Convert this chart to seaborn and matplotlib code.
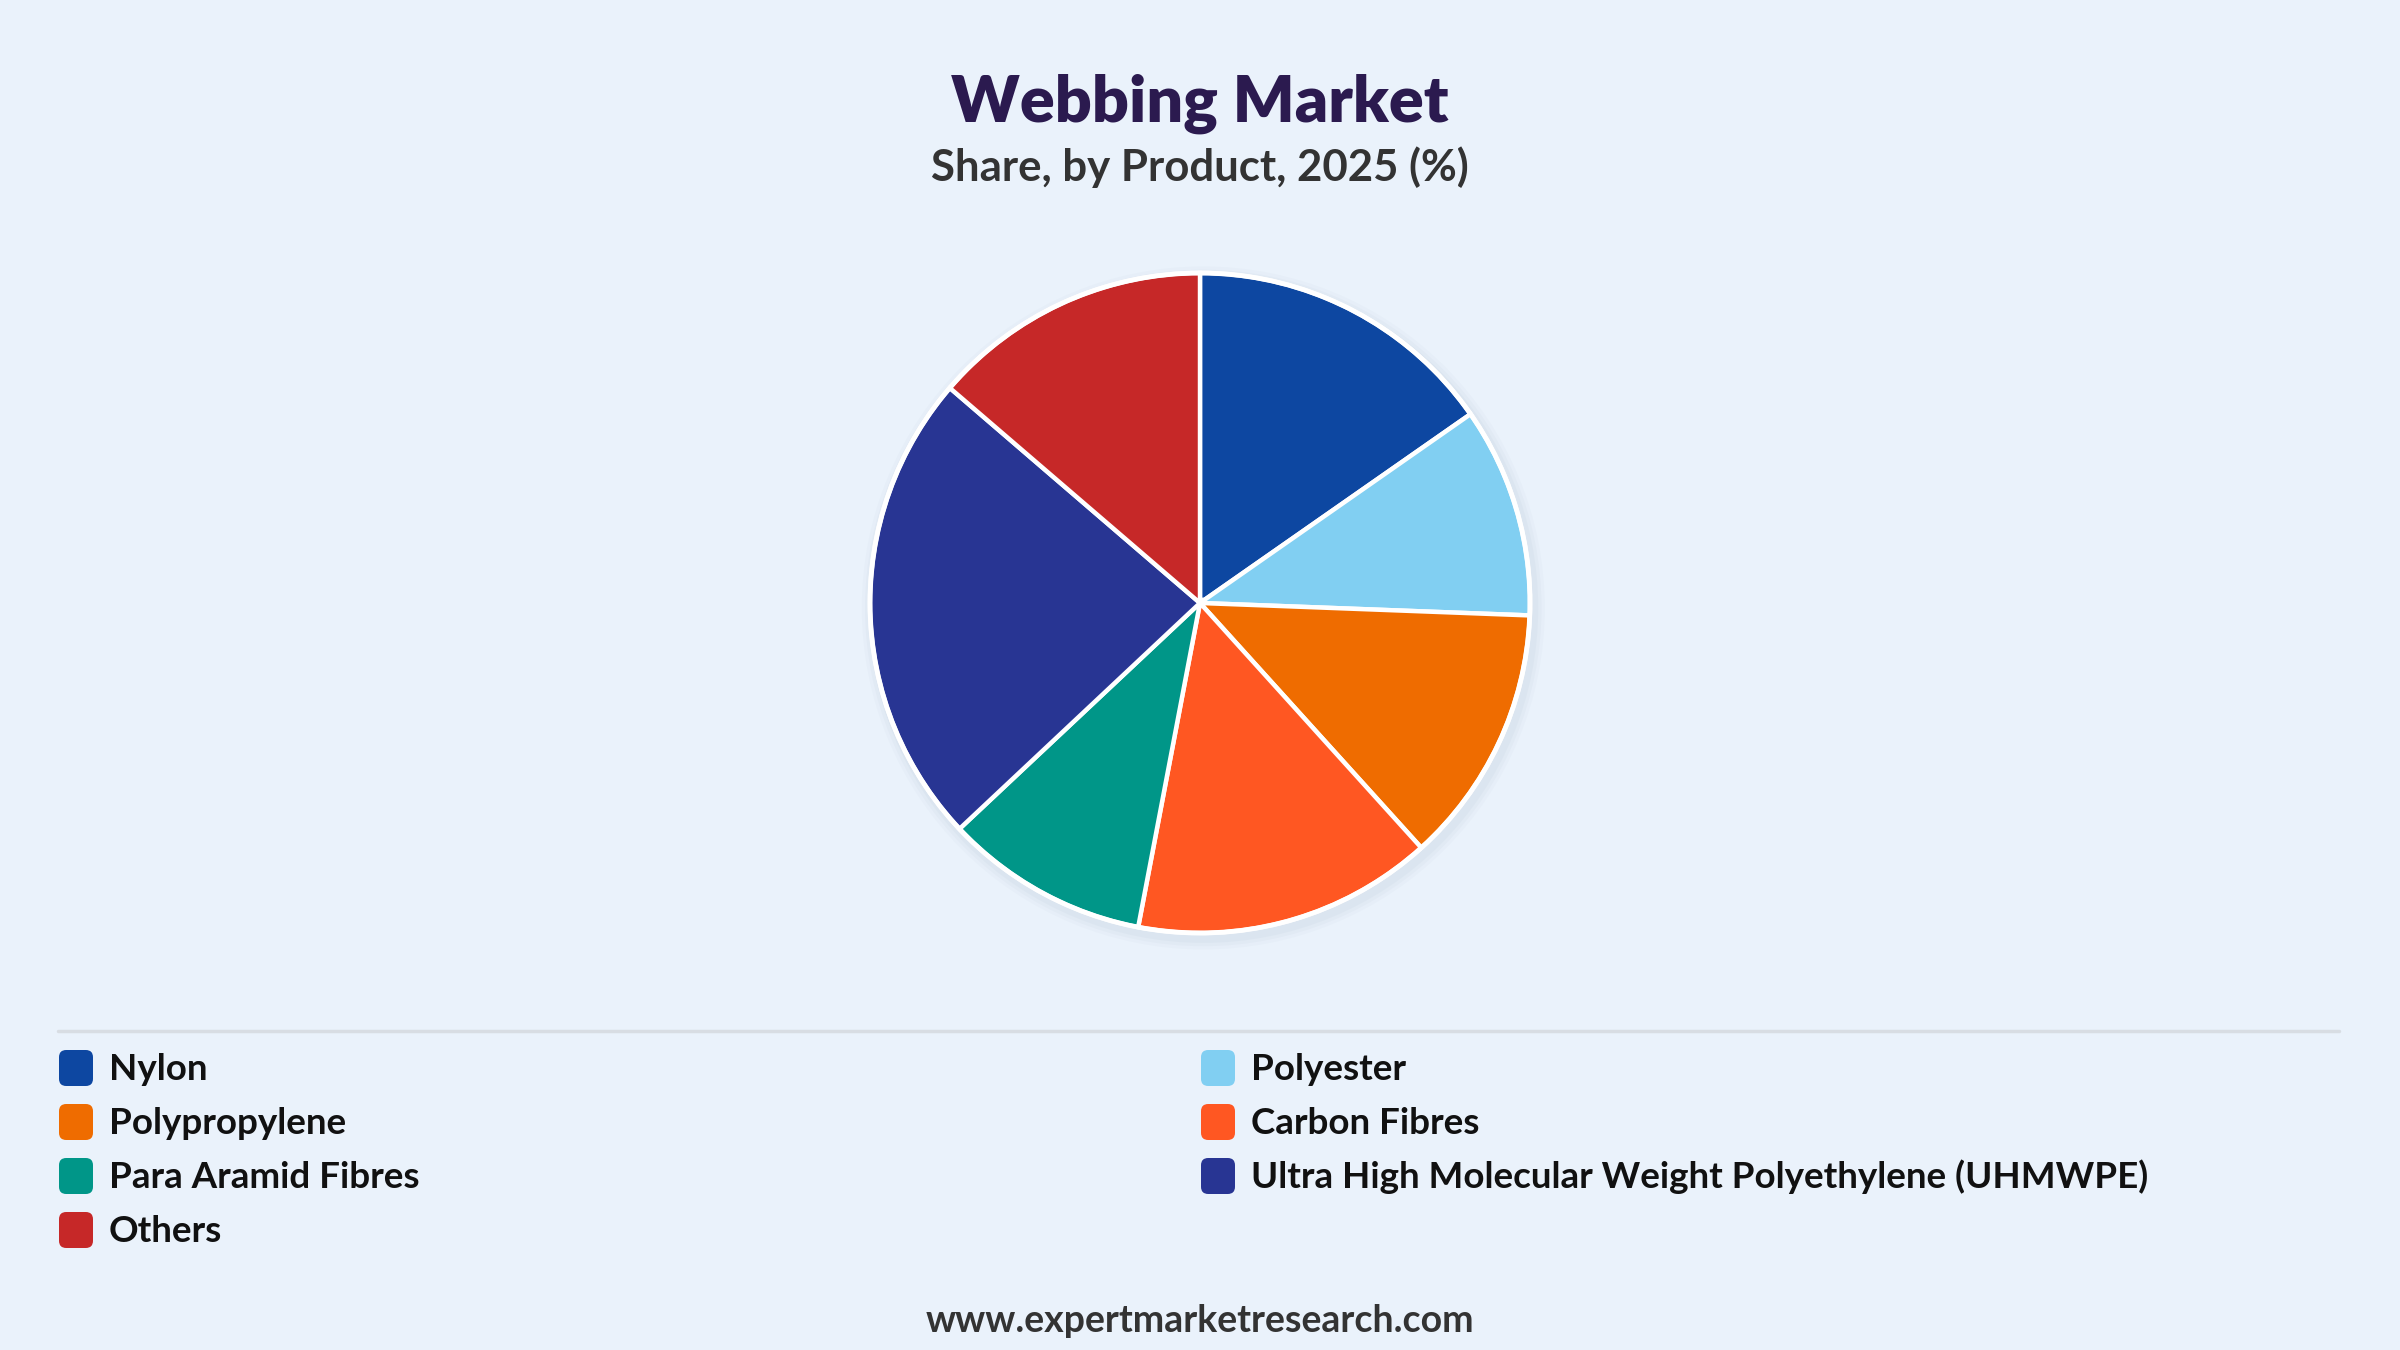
import matplotlib
matplotlib.use("Agg")
import matplotlib.pyplot as plt
import seaborn as sns
from matplotlib.patches import FancyBboxPatch, Circle
from matplotlib.lines import Line2D

# Data
products = ["Nylon", "Polyester", "Polypropylene", "Carbon Fibres",
            "Para Aramid Fibres", "Ultra High Molecular Weight Polyethylene (UHMWPE)",
            "Others"]
shares = [15.3, 10.3, 12.7, 14.7, 10.0, 23.3, 13.7]
colors = ["#0D47A1", "#81CFF2", "#EF6C00", "#FF5722", "#009688", "#283593", "#C62828"]

title = "Webbing Market"
subtitle = "Share, by Product, 2025 (%)"
footer = "www.expertmarketresearch.com"

BG = "#EAF2FB"
W, H = 2400, 1350

sns.set_theme(style="white")
plt.rcParams["font.family"] = ["Lato", "DejaVu Sans"]

fig = plt.figure(figsize=(24, 13.5), dpi=100, facecolor=BG)

# pie axes: centre (1200, 603) px, radius 330 px
cx, cy, r = 1200, 603, 330
pad = 1.06
ax = fig.add_axes([(cx - r * pad) / W, (H - cy - r * pad) / H,
                   2 * r * pad / W, 2 * r * pad / H])
ax.set_facecolor(BG)

# soft shadow behind the pie
for k, a in [(1.035, 0.04), (1.025, 0.05), (1.015, 0.06)]:
    ax.add_patch(Circle((0.01, -0.015), k, color="#8aa0b8", alpha=a, lw=0, zorder=0))

wedges, _ = ax.pie(shares, colors=colors, startangle=90, counterclock=False,
                   radius=1.0,
                   wedgeprops=dict(edgecolor="white", linewidth=3.2, zorder=2))
ax.add_patch(Circle((0, 0), 1.0, fill=False, ec="white", lw=3.5, zorder=3))
ax.set_xlim(-pad, pad)
ax.set_ylim(-pad, pad)
ax.set_aspect("equal")
ax.axis("off")

# titles
fig.text(0.5, 1 - 104 / H, title, ha="center", va="center", fontsize=46.5,
         fontweight="heavy", color="#2B1A4F")
fig.text(0.5, 1 - 167 / H, subtitle, ha="center", va="center", fontsize=31.5,
         fontweight="bold", color="#333333")

# separator line
fig.add_artist(Line2D([58 / W, 2339 / W], [1 - 1031 / H, 1 - 1031 / H],
                      color="#D8DDE3", lw=2.5))

# legend, two columns row-major
col_x = [58, 1200]
row_y = [1068, 1122, 1176, 1230]
for i, (name, c) in enumerate(zip(products, colors)):
    x0 = col_x[i % 2]
    y0 = row_y[i // 2]
    box = FancyBboxPatch(((x0 + 1) / W, 1 - (y0 + 18) / H), 34 / W, 36 / H,
                         boxstyle="round,pad=0,rounding_size=0.003",
                         transform=fig.transFigure, fc=c, ec="none",
                         mutation_aspect=W / H)
    fig.add_artist(box)
    fig.text((x0 + 51) / W, 1 - (y0 + 1) / H, name, ha="left", va="center",
             fontsize=26.5, fontweight="bold", color="#111111")

fig.text(0.5, 1 - 1321 / H, footer, ha="center", va="center", fontsize=27,
         fontweight="bold", color="#333333")

fig.savefig("out.png", dpi=100, facecolor=BG)
